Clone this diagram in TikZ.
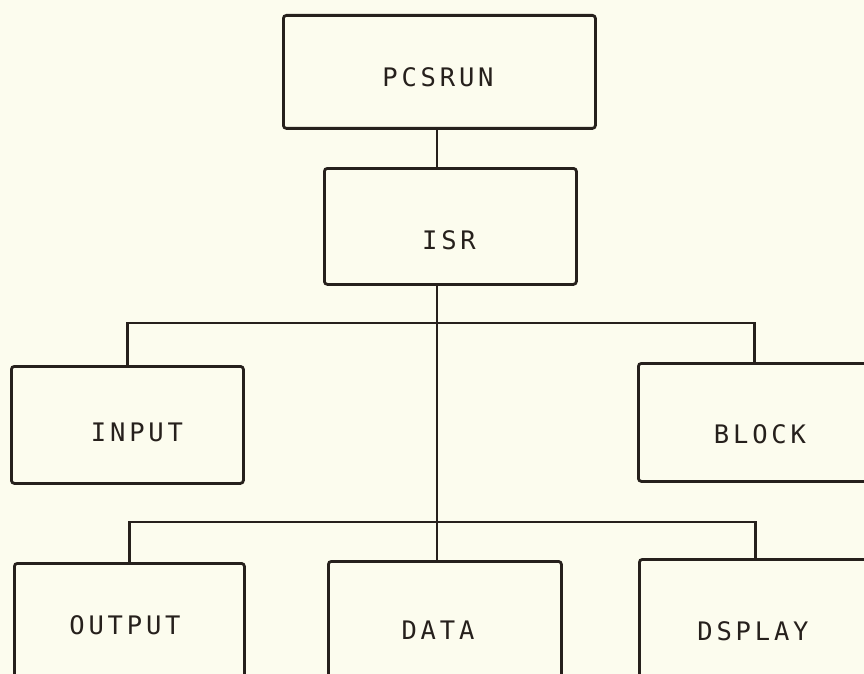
\documentclass[tikz,border=0pt]{standalone}
\usepackage{fontspec}
\newfontfamily\plotfont[LetterSpace=15]{DejaVu Sans Mono}
\definecolor{paper}{RGB}{252,252,238}
\definecolor{ink}{RGB}{38,32,28}
\begin{document}
\begin{tikzpicture}[x=1pt,y=-1pt,
  box/.style={draw=ink, line width=2.8pt, rounded corners=3pt, inner sep=0pt, anchor=north west},
  lbl/.style={text=ink, font=\plotfont\fontsize{25.5}{26}\selectfont, inner sep=0pt},
  wire/.style={draw=ink, line width=2.8pt}]
  \fill[paper] (0,0) rectangle (864,674);
  \useasboundingbox (0,0) rectangle (864,674);
  \clip (0,0) rectangle (864,674);

  % boxes (width x height in pt, placed by top-left corner)
  \node[box, minimum width=312pt, minimum height=113pt] (pcsrun) at (282,14) {};
  \node[box, minimum width=252pt, minimum height=116pt] (isr)    at (323,167) {};
  \node[box, minimum width=232pt, minimum height=117pt] (input)  at (10,365) {};
  \node[box, minimum width=232pt, minimum height=118pt] (block)  at (637,362) {};
  \node[box, minimum width=230pt, minimum height=130pt] (output) at (13,562) {};
  \node[box, minimum width=233pt, minimum height=130pt] (data)   at (327,560) {};
  \node[box, minimum width=232pt, minimum height=130pt] (dsplay) at (638,558) {};

  % texts
  \node[lbl] (tpcsrun) at (438,77)  {PCSRUN};
  \node[lbl] (tisr)    at (449,240) {ISR};
  \node[lbl] (tinput)  at (137,432) {INPUT};
  \node[lbl] (tblock)  at (760,434) {BLOCK};
  \node[lbl] (toutput) at (125,625) {OUTPUT};
  \node[lbl] (tdata)   at (438,630) {DATA};
  \node[lbl] (tdsplay) at (753,631) {DSPLAY};

  % trunk and buses
  \coordinate (trunk) at (437,0);
  \coordinate (busA) at (0,323);
  \coordinate (busB) at (0,522);
  \draw[wire] (pcsrun.south -| trunk) -- (isr.north -| trunk);
  \draw[wire] (isr.south -| trunk) -- (data.north -| trunk);
  \draw[wire] (input.north) -- (input.north |- busA) -- (block.north |- busA) -- (block.north);
  \draw[wire] (output.north) -- (output.north |- busB) -- (dsplay.north |- busB) -- (dsplay.north);
\end{tikzpicture}
\end{document}
